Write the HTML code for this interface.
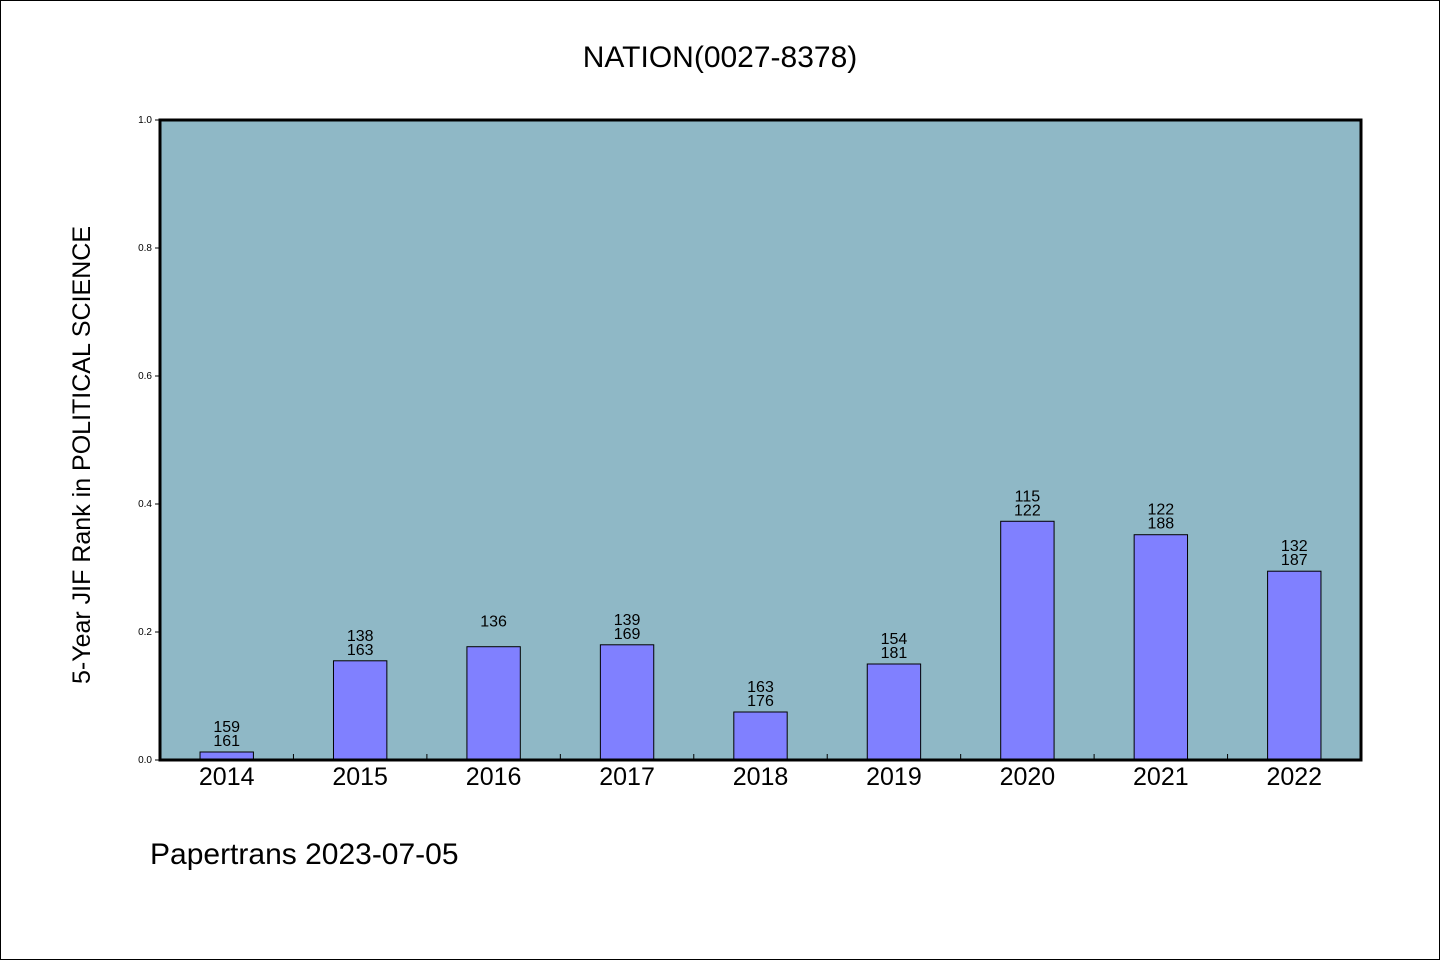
<!DOCTYPE html>
<html><head><meta charset="utf-8"><style>
html,body{margin:0;padding:0;background:#fff;}
svg{display:block;font-family:"WenQuanYi Zen Hei","Liberation Sans",sans-serif;}
</style></head><body>
<svg id="chart" width="1440" height="960" viewBox="0 0 1440 960" xmlns="http://www.w3.org/2000/svg">
<rect x="0.5" y="0.5" width="1439" height="959" fill="#fff" stroke="#000" stroke-width="1"/>
<text x="720" y="67" text-anchor="middle" font-size="30">NATION(0027-8378)</text>
<rect x="160" y="120" width="1201" height="640" fill="#8fb8c6"/>
<g id="bars"></g>
<g id="yticks"></g>
<g id="xticks"></g>
<rect x="160" y="120" width="1201" height="640" fill="none" stroke="#000" stroke-width="3"/>
<text transform="translate(90,455) rotate(-90)" text-anchor="middle" font-size="25">5-Year JIF Rank in POLITICAL SCIENCE</text>
<text x="150" y="864" font-size="30">Papertrans 2023-07-05</text>
</svg>
<script>
const categories = ["2014","2015","2016","2017","2018","2019","2020","2021","2022"];
const values = [0.0125,0.155,0.177,0.18,0.075,0.150,0.373,0.352,0.295];
const labelTop = ["159","138","136","139","163","154","115","122","132"];
const labelBottom = ["161","163","","169","176","181","122","188","187"];
const yTicks = [0,0.2,0.4,0.6,0.8,1.0];
const NS="http://www.w3.org/2000/svg";
const X0=160,X1=1361,Y0=760,Y1=120;
const band=(X1-X0)/categories.length;
const xC=i=>X0+band*(i+0.5);
const y=v=>Y0-(Y0-Y1)*v;
function mk(t,a,p){const e=document.createElementNS(NS,t);for(const k in a)e.setAttribute(k,a[k]);p.appendChild(e);return e;}
const bars=document.getElementById('bars'),yt=document.getElementById('yticks'),xt=document.getElementById('xticks');
categories.forEach((c,i)=>{
  const w=band*0.4;
  const r=mk('rect',{x:xC(i)-w/2,y:y(values[i]),width:w,height:Y0-y(values[i]),fill:'#8080ff',stroke:'#000','stroke-width':1},bars);
  
  
  const top=y(values[i]);
  if(labelBottom[i]){
    const t1=mk('text',{x:xC(i),y:top-20,'text-anchor':'middle','font-size':16},bars);t1.textContent=labelTop[i];
    
    
    const t2=mk('text',{x:xC(i),y:top-6,'text-anchor':'middle','font-size':16},bars);t2.textContent=labelBottom[i];
    
    
  } else {
    const t1=mk('text',{x:xC(i),y:top-20,'text-anchor':'middle','font-size':16},bars);t1.textContent=labelTop[i];
    
    
  }
  const xl=mk('text',{x:xC(i),y:785,'text-anchor':'middle','font-size':25},xt);xl.textContent=c;
  
  
  if(i>0){const tk=mk('line',{x1:X0+band*i,x2:X0+band*i,y1:Y0,y2:Y0-6,stroke:'#000','stroke-width':1},xt);
    
    }
});
yTicks.forEach(v=>{
  const l=mk('line',{x1:X0-5,x2:X0,y1:y(v),y2:y(v),stroke:'#000','stroke-width':1},yt);
  
  
  const t=mk('text',{x:X0-8,y:y(v)+3,'text-anchor':'end','font-size':10},yt);t.textContent=v.toFixed(1);
  
  
});
</script>
</body></html>
